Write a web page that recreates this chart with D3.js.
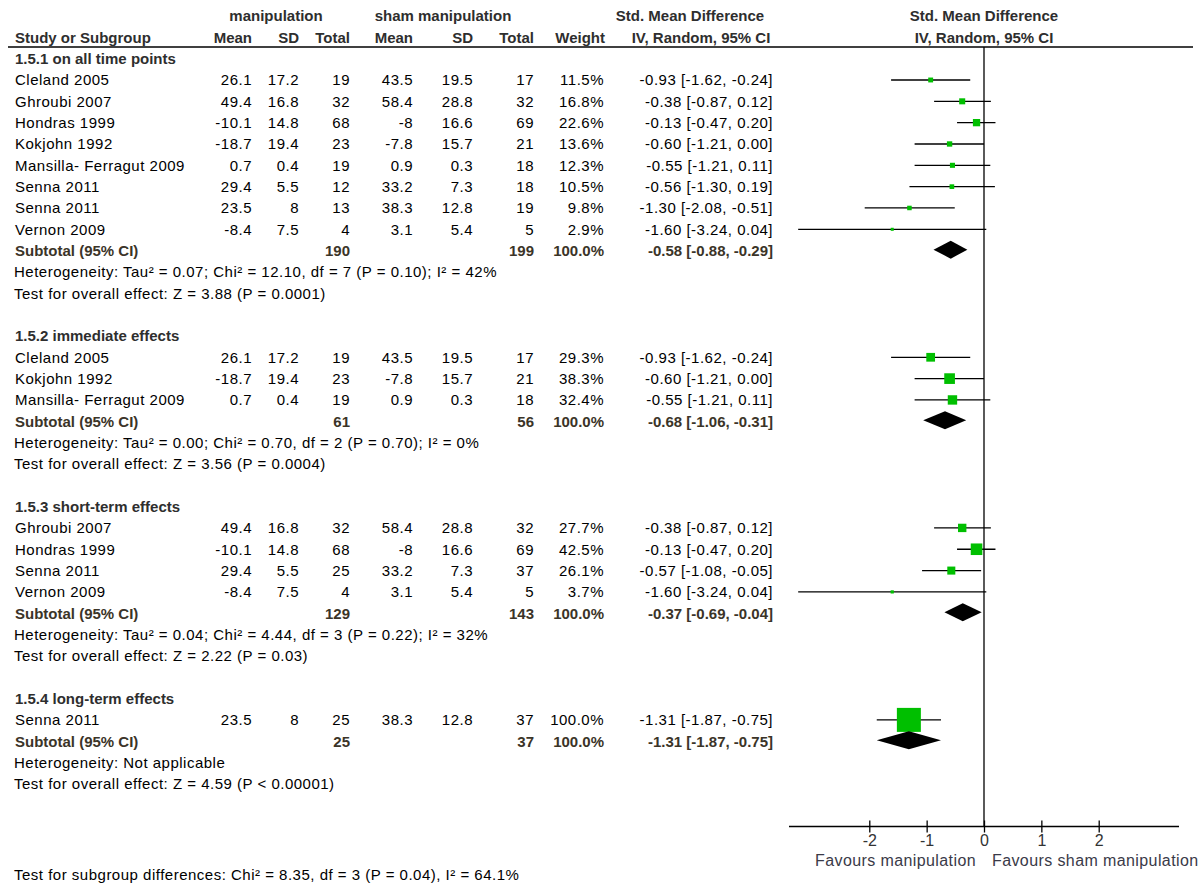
<!DOCTYPE html>
<html>
<head>
<meta charset="utf-8">
<script src="https://cdn.jsdelivr.net/npm/d3@7"></script>
<style>
  body { margin: 0; background: #fff; }
  svg text { font-family: "Liberation Sans", Arial, sans-serif; }
</style>
</head>
<body>
<svg id="plot" width="1200" height="891"></svg>
<script>
// Subgroups
var groupTitles = ['1.5.1 on all time points', '1.5.2 immediate effects', '1.5.3 short-term effects', '1.5.4 long-term effects'];

// Studies (one entry per row, in order)
var studyGroup = [0, 0, 0, 0, 0, 0, 0, 0, 1, 1, 1, 2, 2, 2, 2, 3];
var studyNames = ['Cleland 2005', 'Ghroubi 2007', 'Hondras 1999', 'Kokjohn 1992', 'Mansilla- Ferragut 2009', 'Senna 2011', 'Senna 2011', 'Vernon 2009',
                  'Cleland 2005', 'Kokjohn 1992', 'Mansilla- Ferragut 2009',
                  'Ghroubi 2007', 'Hondras 1999', 'Senna 2011', 'Vernon 2009',
                  'Senna 2011'];
var manipMean = [26.1, 49.4, -10.1, -18.7, 0.7, 29.4, 23.5, -8.4, 26.1, -18.7, 0.7, 49.4, -10.1, 29.4, -8.4, 23.5];
var manipSD   = [17.2, 16.8, 14.8, 19.4, 0.4, 5.5, 8, 7.5, 17.2, 19.4, 0.4, 16.8, 14.8, 5.5, 7.5, 8];
var manipN    = [19, 32, 68, 23, 19, 12, 13, 4, 19, 23, 19, 32, 68, 25, 4, 25];
var shamMean  = [43.5, 58.4, -8, -7.8, 0.9, 33.2, 38.3, 3.1, 43.5, -7.8, 0.9, 58.4, -8, 33.2, 3.1, 38.3];
var shamSD    = [19.5, 28.8, 16.6, 15.7, 0.3, 7.3, 12.8, 5.4, 19.5, 15.7, 0.3, 28.8, 16.6, 7.3, 5.4, 12.8];
var shamN     = [17, 32, 69, 21, 18, 18, 19, 5, 17, 21, 18, 32, 69, 37, 5, 37];
var weights   = [11.5, 16.8, 22.6, 13.6, 12.3, 10.5, 9.8, 2.9, 29.3, 38.3, 32.4, 27.7, 42.5, 26.1, 3.7, 100.0];
var smd       = [-0.93, -0.38, -0.13, -0.60, -0.55, -0.56, -1.30, -1.60, -0.93, -0.60, -0.55, -0.38, -0.13, -0.57, -1.60, -1.31];
var ciLow     = [-1.62, -0.87, -0.47, -1.21, -1.21, -1.30, -2.08, -3.24, -1.62, -1.21, -1.21, -0.87, -0.47, -1.08, -3.24, -1.87];
var ciHigh    = [-0.24, 0.12, 0.20, 0.00, 0.11, 0.19, -0.51, 0.04, -0.24, 0.00, 0.11, 0.12, 0.20, -0.05, 0.04, -0.75];

// Subtotals per subgroup
var subManipN = [190, 61, 129, 25];
var subShamN  = [199, 56, 143, 37];
var subWeight = [100.0, 100.0, 100.0, 100.0];
var subSmd    = [-0.58, -0.68, -0.37, -1.31];
var subLow    = [-0.88, -1.06, -0.69, -1.87];
var subHigh   = [-0.29, -0.31, -0.04, -0.75];
var heterogeneity = ['Heterogeneity: Tau\u00b2 = 0.07; Chi\u00b2 = 12.10, df = 7 (P = 0.10); I\u00b2 = 42%',
                     'Heterogeneity: Tau\u00b2 = 0.00; Chi\u00b2 = 0.70, df = 2 (P = 0.70); I\u00b2 = 0%',
                     'Heterogeneity: Tau\u00b2 = 0.04; Chi\u00b2 = 4.44, df = 3 (P = 0.22); I\u00b2 = 32%',
                     'Heterogeneity: Not applicable'];
var overallEffect = ['Test for overall effect: Z = 3.88 (P = 0.0001)',
                     'Test for overall effect: Z = 3.56 (P = 0.0004)',
                     'Test for overall effect: Z = 2.22 (P = 0.03)',
                     'Test for overall effect: Z = 4.59 (P < 0.00001)'];
var subgroupTest = 'Test for subgroup differences: Chi\u00b2 = 8.35, df = 3 (P = 0.04), I\u00b2 = 64.1%';

// Axis
var axisTicks = [-2, -1, 0, 1, 2];
var favoursLeft = 'Favours manipulation';
var favoursRight = 'Favours sham manipulation';

// Layout
var green = '#00bf00';
var subColor = '#3b3428';
var headColor = '#2e2e2e';

var svg = d3.select('#plot');

var rowY = d3.scaleLinear().domain([0, 1]).range([16, 37.33]);
var x = d3.scaleLinear().domain([-3.4, 3.4]).range([789, 1179]);
var boxSize = d3.scaleLinear().domain([0, 100]).range([2.4, 24]);

// column right edges
var colMean = 252, colSD = 299, colN = 350, colMean2 = 413, colSD2 = 473, colN2 = 534, colW = 604, colCI = 773;

function fmt1(v) { return v.toFixed(1) + '%'; }
function fmtCI(e, lo, hi) { return e.toFixed(2) + ' [' + lo.toFixed(2) + ', ' + hi.toFixed(2) + ']'; }

function addText(txt, xPos, row, anchor, bold, color) {
  return svg.append('text')
     .attr('x', xPos)
     .attr('y', rowY(row))
     .attr('dy', '0.36em')
     .attr('text-anchor', anchor)
     .attr('font-size', 15)
     .attr('font-weight', bold ? 'bold' : 'normal')
     .attr('letter-spacing', bold ? 0 : 0.5)
     .attr('fill', color || '#000')
     .text(txt);
}

// Header
addText('manipulation', 276, 0, 'middle', true, headColor);
addText('sham manipulation', 443, 0, 'middle', true, headColor);
addText('Std. Mean Difference', 690, 0, 'middle', true, headColor);
addText('Std. Mean Difference', 984, 0, 'middle', true, headColor);
addText('Study or Subgroup', 15, 1, 'start', true, headColor);
addText('Mean', colMean, 1, 'end', true, headColor);
addText('SD', colSD, 1, 'end', true, headColor);
addText('Total', colN, 1, 'end', true, headColor);
addText('Mean', colMean2, 1, 'end', true, headColor);
addText('SD', colSD2, 1, 'end', true, headColor);
addText('Total', colN2, 1, 'end', true, headColor);
addText('Weight', colW + 1, 1, 'end', true, headColor);
addText('IV, Random, 95% CI', 701, 1, 'middle', true, headColor);
addText('IV, Random, 95% CI', 984, 1, 'middle', true, headColor);

svg.append('line')
   .attr('x1', 8).attr('x2', 1193)
   .attr('y1', 47).attr('y2', 47)
   .attr('stroke', '#000').attr('stroke-width', 1.5);

// Zero line
var axisY = 826.5;
svg.append('line')
   .attr('x1', x(0)).attr('x2', x(0))
   .attr('y1', 47).attr('y2', axisY)
   .attr('stroke', '#000').attr('stroke-width', 1.3);

// Rows
var row = 2;
var plotG = svg.append('g');
groupTitles.forEach(function(title, g) {
  addText(title, 15, row, 'start', true, headColor);
  row++;
  studyNames.forEach(function(name, i) {
    if (studyGroup[i] !== g) return;
    addText(name, 15, row, 'start', false);
    addText(String(manipMean[i]), colMean, row, 'end', false);
    addText(String(manipSD[i]), colSD, row, 'end', false);
    addText(String(manipN[i]), colN, row, 'end', false);
    addText(String(shamMean[i]), colMean2, row, 'end', false);
    addText(String(shamSD[i]), colSD2, row, 'end', false);
    addText(String(shamN[i]), colN2, row, 'end', false);
    addText(fmt1(weights[i]), colW, row, 'end', false);
    addText(fmtCI(smd[i], ciLow[i], ciHigh[i]), colCI, row, 'end', false);

    var cy = rowY(row);
    plotG.append('line')
         .attr('x1', x(ciLow[i])).attr('x2', x(ciHigh[i]))
         .attr('y1', cy).attr('y2', cy)
         .attr('stroke', '#000').attr('stroke-width', 1.3);
    var s = boxSize(weights[i]);
    plotG.append('rect')
         .attr('x', x(smd[i]) - s / 2).attr('y', cy - s / 2)
         .attr('width', s).attr('height', s)
         .attr('fill', green);
    row++;
  });

  // Subtotal
  addText('Subtotal (95% CI)', 15, row, 'start', true, subColor);
  addText(String(subManipN[g]), colN, row, 'end', true, subColor);
  addText(String(subShamN[g]), colN2, row, 'end', true, subColor);
  addText(fmt1(subWeight[g]), colW, row, 'end', true, subColor);
  addText(fmtCI(subSmd[g], subLow[g], subHigh[g]), colCI, row, 'end', true, subColor);
  var dy = rowY(row) - 1;
  var pts = [[x(subLow[g]), dy], [x(subSmd[g]), dy - 9], [x(subHigh[g]), dy], [x(subSmd[g]), dy + 9]];
  plotG.append('path')
       .attr('d', d3.line()(pts) + 'Z')
       .attr('fill', '#000');
  row++;

  addText(heterogeneity[g], 14, row, 'start', false);
  row++;
  addText(overallEffect[g], 14, row, 'start', false);
  row += 2;
});

// Axis
var axis = d3.axisBottom(x)
             .tickValues(axisTicks)
             .tickSize(6)
             .tickFormat(function(d) { return String(d); });
var axG = svg.append('g')
   .attr('transform', 'translate(0,' + axisY + ')')
   .call(axis);
axG.select('.domain').attr('d', 'M' + x(-3.4) + ',0H' + x(3.4)).attr('stroke-width', 1.5);
axG.selectAll('.tick line').attr('y1', -6).attr('y2', 6).attr('stroke-width', 1.3);
axG.selectAll('.tick text')
   .attr('y', 8)
   .attr('font-size', 16)
   .attr('font-family', '"Liberation Sans", Arial, sans-serif')
   .attr('fill', '#333');

svg.append('text')
   .attr('x', 976).attr('y', 860).attr('dy', '0.36em')
   .attr('text-anchor', 'end')
   .attr('font-size', 16).attr('letter-spacing', 0.4).attr('fill', '#3a3a48')
   .text(favoursLeft);
svg.append('text')
   .attr('x', 992).attr('y', 860).attr('dy', '0.36em')
   .attr('text-anchor', 'start')
   .attr('font-size', 16).attr('letter-spacing', 0.4).attr('fill', '#3a3a48')
   .text(favoursRight);

svg.append('text')
   .attr('x', 14).attr('y', 875).attr('dy', '0.36em')
   .attr('font-size', 15).attr('letter-spacing', 0.5)
   .text(subgroupTest);
</script>
</body>
</html>
